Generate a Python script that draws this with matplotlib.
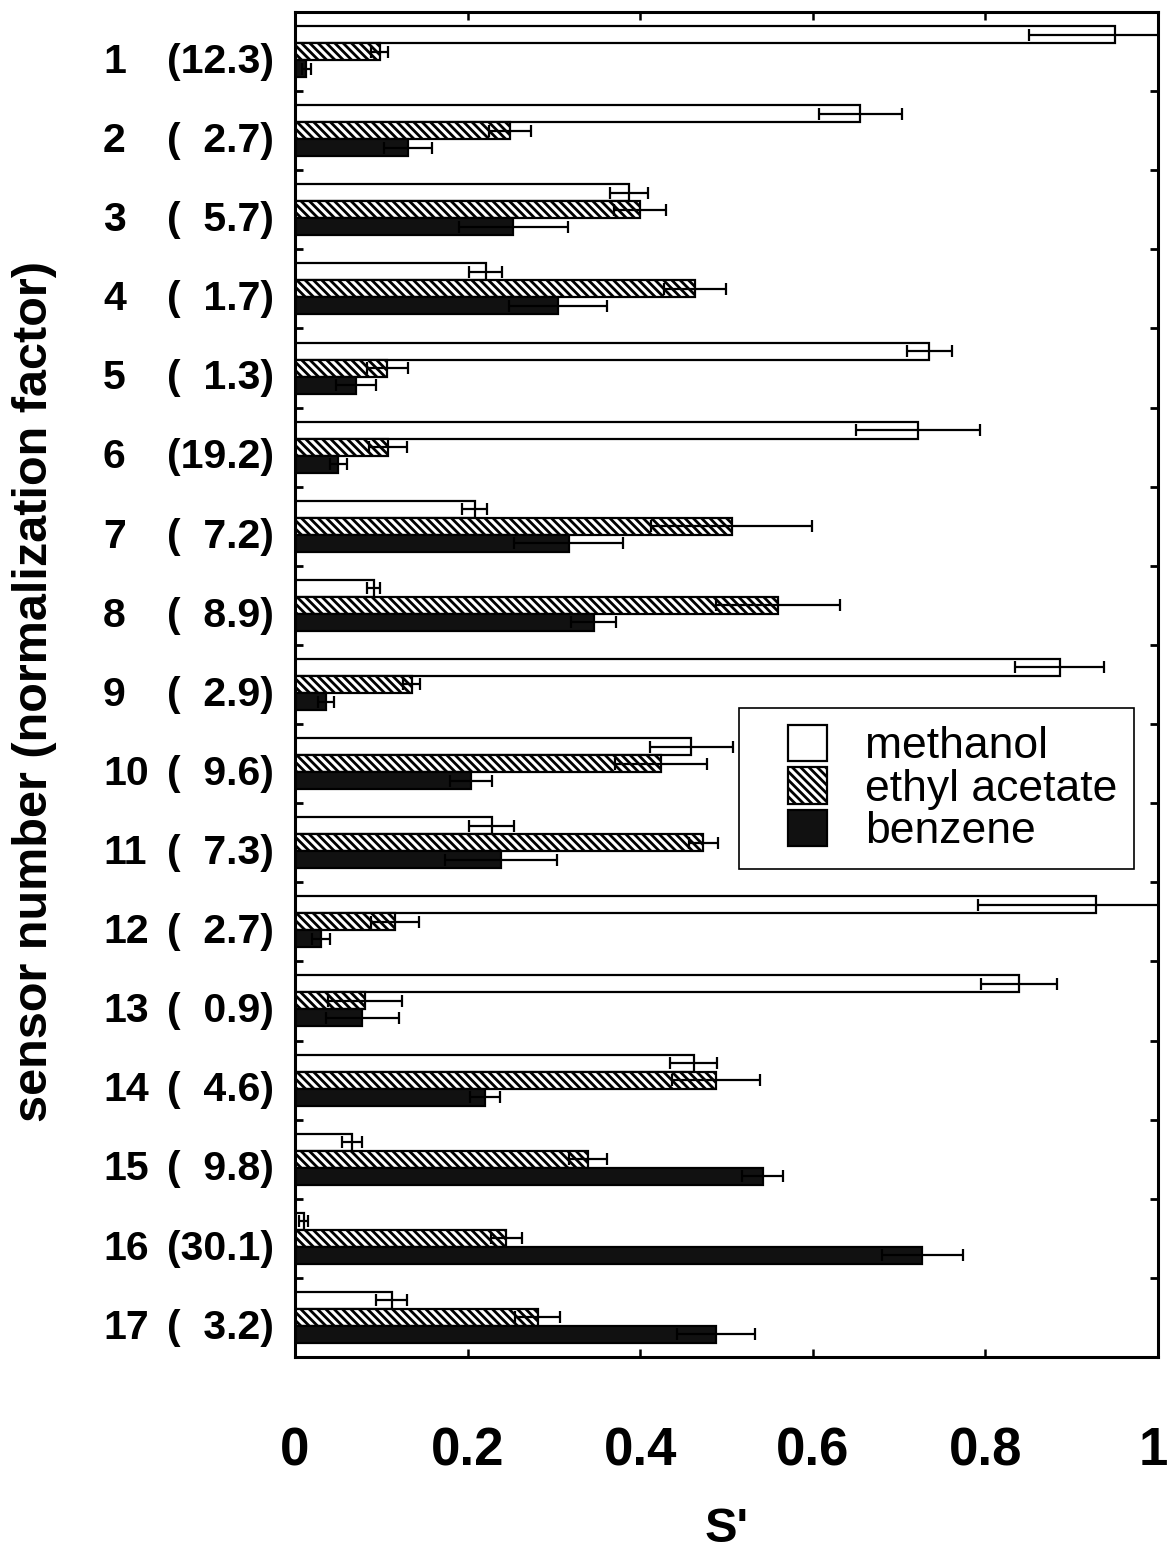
import matplotlib
matplotlib.use("Agg")
import matplotlib.pyplot as plt
import numpy as np
from matplotlib import transforms
from matplotlib.patches import Patch
from matplotlib.legend_handler import HandlerPatch

# ---------------- data ----------------
sensors = list(range(1, 18))
norm_factors = [12.3, 2.7, 5.7, 1.7, 1.3, 19.2, 7.2, 8.9, 2.9, 9.6, 7.3, 2.7, 0.9, 4.6, 9.8, 30.1, 3.2]

methanol = [0.950, 0.655, 0.387, 0.221, 0.735, 0.722, 0.208, 0.091, 0.886, 0.459,
            0.228, 0.928, 0.839, 0.462, 0.066, 0.010, 0.112]
methanol_err = [0.100, 0.048, 0.022, 0.019, 0.026, 0.072, 0.014, 0.008, 0.052, 0.048,
                0.026, 0.137, 0.044, 0.027, 0.012, 0.005, 0.018]

ethyl_acetate = [0.098, 0.249, 0.400, 0.463, 0.107, 0.108, 0.506, 0.560, 0.135, 0.424,
                 0.473, 0.116, 0.081, 0.488, 0.339, 0.245, 0.281]
ethyl_acetate_err = [0.010, 0.024, 0.030, 0.036, 0.024, 0.022, 0.093, 0.072, 0.010, 0.053,
                     0.017, 0.028, 0.043, 0.051, 0.022, 0.018, 0.026]

benzene = [0.013, 0.131, 0.253, 0.305, 0.071, 0.050, 0.317, 0.346, 0.036, 0.204,
           0.239, 0.030, 0.078, 0.220, 0.542, 0.727, 0.488]
benzene_err = [0.005, 0.028, 0.063, 0.057, 0.023, 0.010, 0.063, 0.026, 0.009, 0.024,
               0.065, 0.010, 0.042, 0.017, 0.024, 0.047, 0.045]

series_names = ["methanol", "ethyl acetate", "benzene"]
x_ticks = [0, 0.2, 0.4, 0.6, 0.8, 1]
x_tick_labels = ["0", "0.2", "0.4", "0.6", "0.8", "1"]
x_label = "S'"
y_label = "sensor number (normalization factor)"

# ---------------- style ----------------
plt.rcParams["hatch.linewidth"] = 2.0
plt.rcParams["font.family"] = ["Liberation Sans", "DejaVu Sans"]

W, H = 1169, 1553
fig = plt.figure(figsize=(W / 100, H / 100), dpi=100)
L, R, T, B = 295, 1158, 12, 1357
ax = fig.add_axes([L / W, 1 - B / H, (R - L) / W, (B - T) / H])

n = len(sensors)
y = np.arange(n)
h = 0.215
offs = [-0.215, 0.0, 0.215]
vals = [methanol, ethyl_acetate, benzene]
errs = [methanol_err, ethyl_acetate_err, benzene_err]
faces = ["white", "white", "#111111"]
hatches = [None, "\\\\\\\\", None]

for v, e, off, fc, ht, name in zip(vals, errs, offs, faces, hatches, series_names):
    ax.barh(y + off, v, height=h, color=fc, edgecolor="black",
            linewidth=1.6, hatch=ht, label=name, zorder=2)
    ax.errorbar(v, y + off, xerr=e, fmt="none", ecolor="black",
                elinewidth=1.6, capsize=4.5, capthick=1.6, zorder=3)

ax.set_xlim(0, 1)
ax.set_ylim(n - 0.5, -0.5)

for s in ax.spines.values():
    s.set_linewidth(2.2)

ax.set_xticks(x_ticks)
ax.set_xticklabels(x_tick_labels)
ax.tick_params(axis="x", direction="in", length=6, width=1.8, top=True,
               bottom=True, pad=50)
xlabs = ax.get_xticklabels()
for lab in xlabs:
    lab.set_fontweight("bold")
    lab.set_fontsize(38)
# keep the last label ("1") inside the figure edge
xlabs[-1].set_horizontalalignment("right")
xlabs[-1].set_transform(xlabs[-1].get_transform() +
                        transforms.ScaledTranslation(0.10, 0, fig.dpi_scale_trans))

ax.set_yticks(np.arange(n - 1) + 0.5)
ax.set_yticklabels([])
ax.tick_params(axis="y", direction="in", length=6, width=2.0, left=True,
               right=True)

# y category labels: sensor number and normalization factor
trans = transforms.blended_transform_factory(ax.transAxes, ax.transData)
FS = "\u2007"
for i, (s, nf) in enumerate(zip(sensors, norm_factors)):
    ax.text((103 - L) / (R - L), i + 0.13, str(s), transform=trans,
            ha="left", va="center", fontsize=29.5, fontweight="bold")
    txt = f"{nf:.1f}"
    if len(txt) < 4:
        txt = FS + txt
    ax.text((274 - L) / (R - L), i + 0.13, f"({txt})", transform=trans,
            ha="right", va="center", fontsize=29.5, fontweight="bold")

ax.set_xlabel(x_label, fontsize=35, fontweight="bold", labelpad=22)
ax.set_ylabel(y_label, fontsize=35, fontweight="bold")
ax.yaxis.set_label_coords((35 - L) / (R - L), 0.495)
ax.yaxis.label.set_verticalalignment("center")

leg_handles = [Patch(facecolor=fc, edgecolor="black", linewidth=1.6, hatch=ht)
               for fc, ht in zip(faces, hatches)]
leg = ax.legend(handles=leg_handles, labels=series_names,
                handler_map={Patch: HandlerPatch(xpad=0.72)},
                loc="upper left",
                bbox_to_anchor=((739 - L) / (R - L), (B - 708) / (B - T)),
                borderaxespad=0, fontsize=32, frameon=True, fancybox=False,
                edgecolor="black", framealpha=1, handlelength=1.6,
                handleheight=0.88, labelspacing=0.0, handletextpad=0.86,
                borderpad=0.38)
leg.get_frame().set_linewidth(1.2)
leg.set_zorder(5)

fig.savefig("out.png", dpi=100)
